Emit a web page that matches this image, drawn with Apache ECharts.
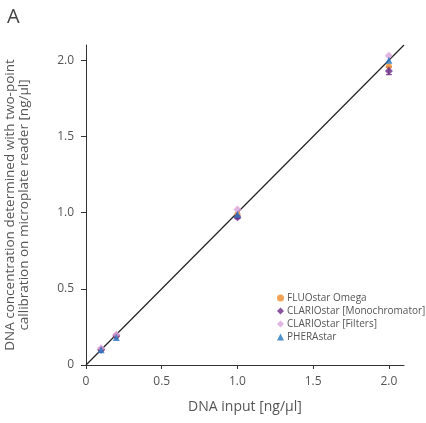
<!DOCTYPE html>
<html><head><meta charset="utf-8">
<script src="https://cdn.jsdelivr.net/npm/echarts@6/dist/echarts.min.js"></script>
<style>html,body{margin:0;padding:0;background:#fff}#c{width:426px;height:423px}</style>
</head><body><div id="c"></div>
<script>
var xInput = [0.1, 0.2, 1.0, 2.0];
var fluostar = [0.10, 0.19, 0.99, 1.96];
var clarioMono = [0.10, 0.19, 0.97, 1.93];
var clarioMonoErr = [0.005, 0.005, 0.01, 0.025];
var clarioFilt = [0.11, 0.20, 1.02, 2.03];
var pherastar = [0.10, 0.18, 0.99, 2.00];
var xTicks = [0, 0.5, 1.0, 1.5, 2.0];
var yTicks = [0, 0.5, 1.0, 1.5, 2.0];
var fitLine = [[0, 0], [2.1, 2.1]];

function pairs(ys){ return xInput.map(function(x,i){return [x, ys[i]];}); }
var font = 'Open Sans';
var txt = '#555';
var chart = echarts.init(document.getElementById('c'));
chart.setOption({
  animation: false,
  textStyle: {fontFamily: font},
  title: {text: 'A', left: 2, top: 2, textStyle: {fontSize: 20, fontWeight: 'normal', color: '#444', fontFamily: font}},
  grid: {left: 86, right: 22, top: 45, bottom: 58, containLabel: false, outerBoundsMode: 'none'},
  legend: {
    orient: 'vertical', left: 272, top: 288, itemWidth: 7, itemHeight: 7, itemGap: 3,
    textStyle: {fontSize: 10, color: txt, fontFamily: font, padding: [0,0,0,-2]},
    data: [
      {name: 'FLUOstar Omega', icon: 'circle'},
      {name: 'CLARIOstar [Monochromator]', icon: 'diamond'},
      {name: 'CLARIOstar [Filters]', icon: 'diamond'},
      {name: 'PHERAstar', icon: 'triangle'}
    ]
  },
  xAxis: {
    type: 'value', min: 0, max: 2.1, interval: 0.5,
    name: 'DNA input [ng/µl]', nameLocation: 'middle', nameGap: 35,
    nameTextStyle: {fontSize: 14, color: txt},
    axisLine: {lineStyle: {color: '#333', width: 1}},
    axisTick: {show: true, length: 4, lineStyle: {color: '#333'}},
    splitLine: {show: false},
    axisLabel: {fontSize: 12, color: txt, margin: 11, showMaxLabel: false,
      formatter: function(v){ return v === 0 ? '0' : v.toFixed(1); }}
  },
  yAxis: {
    type: 'value', min: 0, max: 2.1, interval: 0.5,
    name: 'DNA concentration determined with two-point\ncallibration on microplate reader [ng/µl]',
    nameLocation: 'middle', nameGap: 55,
    nameTextStyle: {fontSize: 13.5, color: txt, lineHeight: 14},
    axisLine: {show: true, lineStyle: {color: '#333', width: 1}},
    axisTick: {show: true, length: 5, lineStyle: {color: '#333'}},
    splitLine: {show: false},
    axisLabel: {fontSize: 12, color: txt, margin: 12, showMaxLabel: false,
      formatter: function(v){ return v === 0 ? '0' : v.toFixed(1); }}
  },
  series: [
    {type: 'line', data: fitLine, showSymbol: false, symbol: 'none', lineStyle: {color: '#222', width: 1.2}, z: 1, silent: true},
    {name: 'FLUOstar Omega', type: 'scatter', symbol: 'circle', symbolSize: 6, data: pairs(fluostar), itemStyle: {color: '#f08c2a'}, z: 3},
    {name: 'CLARIOstar [Monochromator]', type: 'scatter', symbol: 'diamond', symbolSize: 8, data: pairs(clarioMono), itemStyle: {color: '#6b2a86'}, z: 3},
    {type: 'custom', z: 2, silent: true,
      data: xInput.map(function(x,i){return [x, clarioMono[i]-clarioMonoErr[i], clarioMono[i]+clarioMonoErr[i]];}),
      renderItem: function(params, api){
        var lo = api.coord([api.value(0), api.value(1)]);
        var hi = api.coord([api.value(0), api.value(2)]);
        var w = 3;
        var st = {stroke: '#6b2a86', lineWidth: 1};
        return {type: 'group', children: [
          {type: 'line', shape: {x1: lo[0], y1: lo[1], x2: hi[0], y2: hi[1]}, style: st},
          {type: 'line', shape: {x1: lo[0]-w, y1: lo[1], x2: lo[0]+w, y2: lo[1]}, style: st},
          {type: 'line', shape: {x1: hi[0]-w, y1: hi[1], x2: hi[0]+w, y2: hi[1]}, style: st}
        ]};
      }
    },
    {name: 'CLARIOstar [Filters]', type: 'scatter', symbol: 'diamond', symbolSize: 8, data: pairs(clarioFilt), itemStyle: {color: '#d9a3d9'}, z: 3},
    {name: 'PHERAstar', type: 'scatter', symbol: 'triangle', symbolSize: 7, data: pairs(pherastar), itemStyle: {color: '#2474c0'}, z: 4}
  ]
});
</script></body></html>
